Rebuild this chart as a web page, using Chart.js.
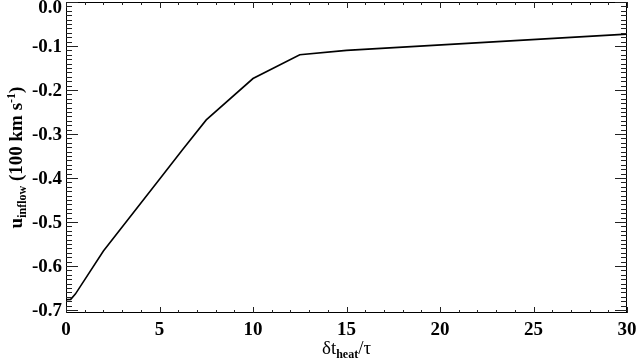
<!DOCTYPE html>
<html>
<head>
<meta charset="utf-8">
<script src="https://cdn.jsdelivr.net/npm/chart.js@4/dist/chart.umd.min.js"></script>
<style>
html,body{margin:0;padding:0;background:#fff;}
#wrap{width:637px;height:362px;}
</style>
</head>
<body>
<div id="wrap"><canvas id="c" width="637" height="362"></canvas></div>
<script>
// Data
const xValues = [0, 0.25, 0.5, 2, 5, 6.25, 7.5, 10, 12.5, 15, 30];
const yValues = [-0.677, -0.676, -0.664, -0.566, -0.403, -0.335, -0.268, -0.174, -0.120, -0.110, -0.073];
const xTicks = [0, 5, 10, 15, 20, 25, 30];
const yTicks = [0.0, -0.1, -0.2, -0.3, -0.4, -0.5, -0.6, -0.7];
const xMinorStep = 1;
const yMinorStep = 0.01;

const points = xValues.map((x, i) => ({x: x, y: yValues[i]}));
const SERIF = '"Liberation Serif", "Times New Roman", serif';

function drawRich(ctx, segs, cx, cy, rotate) {
  ctx.save();
  ctx.translate(cx, cy);
  if (rotate) ctx.rotate(-Math.PI / 2);
  let total = 0;
  segs.forEach(s => { ctx.font = s.font; s.w = ctx.measureText(s.t).width; total += s.w; });
  let x = -total / 2;
  ctx.fillStyle = '#000';
  ctx.textBaseline = 'alphabetic';
  ctx.textAlign = 'left';
  segs.forEach(s => { ctx.font = s.font; ctx.fillText(s.t, x, s.dy || 0); x += s.w; });
  ctx.restore();
}

function isMajor(list, v) {
  for (let k = 0; k < list.length; k++) if (Math.abs(list[k] - v) < 1e-6) return true;
  return false;
}

const framePlugin = {
  id: 'frame',
  afterDraw(chart) {
    const ctx = chart.ctx;
    const a = chart.chartArea;
    const xs = chart.scales.x, ys = chart.scales.y;
    ctx.save();
    ctx.strokeStyle = '#000';
    ctx.lineWidth = 1;
    ctx.strokeRect(a.left + 0.5, a.top + 0.5, a.right - a.left - 1, a.bottom - a.top - 1);
    ctx.fillStyle = '#222';
    const nx = Math.round((xs.max - xs.min) / xMinorStep);
    for (let i = 0; i <= nx; i++) {
      const v = xs.min + i * xMinorStep;
      const px = Math.round(xs.getPixelForValue(v));
      const len = isMajor(xTicks, v) ? 6 : 3;
      ctx.fillRect(px, a.bottom - len, 1, len);
      ctx.fillRect(px, a.top, 1, len);
    }
    const ny = Math.floor((ys.max - ys.min) / yMinorStep + 1e-6);
    for (let i = 0; i <= ny; i++) {
      const v = ys.max - i * yMinorStep;
      const py = Math.round(ys.getPixelForValue(v));
      const len = isMajor(yTicks, v) ? 12 : 6;
      ctx.fillRect(a.left, py, len, 1);
      ctx.fillRect(a.right - len, py, len, 1);
    }

    ctx.fillStyle = '#000';
    ctx.font = 'bold 19px ' + SERIF;
    ctx.textAlign = 'right';
    ctx.textBaseline = 'middle';
    yTicks.forEach(v => {
      let py = ys.getPixelForValue(v) + 1.5;
      py = Math.max(py, a.top + 6);
      ctx.fillText(v.toFixed(1), a.left - 4, py);
    });
    ctx.restore();

    const cx = (a.left + a.right) / 2;
    drawRich(ctx, [
      {t: 'δt', font: '19px ' + SERIF},
      {t: 'heat', font: 'bold 12px ' + SERIF, dy: 4},
      {t: '/τ', font: '19px ' + SERIF}
    ], cx, 354, false);
    const cy = (a.top + a.bottom) / 2;
    drawRich(ctx, [
      {t: 'u', font: 'bold 19px ' + SERIF},
      {t: 'inflow', font: 'bold 12px ' + SERIF, dy: 4},
      {t: ' (100 km s', font: 'bold 19px ' + SERIF},
      {t: '-1', font: 'bold 12px ' + SERIF, dy: -7},
      {t: ')', font: 'bold 19px ' + SERIF}
    ], 22, cy, true);
  }
};

new Chart(document.getElementById('c'), {
  type: 'scatter',
  data: {
    datasets: [{
      data: points,
      showLine: true,
      borderColor: '#000',
      backgroundColor: '#000',
      borderWidth: 1.6,
      pointRadius: 0,
      tension: 0
    }]
  },
  options: {
    responsive: false,
    animation: false,
    devicePixelRatio: 1,
    layout: {padding: {top: 2, right: 10, left: 0, bottom: 0}},
    plugins: {legend: {display: false}, tooltip: {enabled: false}},
    scales: {
      x: {
        type: 'linear', min: 0, max: 30,
        grid: {display: false, drawTicks: false},
        border: {display: false},
        afterBuildTicks: s => { s.ticks = xTicks.map(v => ({value: v})); },
        afterFit: s => { s.height = 49; s.paddingLeft = 0; s.paddingRight = 0; },
        ticks: {
          color: '#000', padding: 6, maxRotation: 0, autoSkip: false,
          font: {family: SERIF, size: 19, weight: 'bold'},
          callback: v => String(v)
        }
      },
      y: {
        type: 'linear', min: -0.707, max: 0,
        grid: {display: false, drawTicks: false},
        border: {display: false},
        afterBuildTicks: s => { s.ticks = yTicks.map(v => ({value: v})); },
        afterFit: s => { s.width = 66; s.paddingTop = 0; s.paddingBottom = 0; },
        ticks: {display: false}
      }
    }
  },
  plugins: [framePlugin]
});
</script>
</body>
</html>
